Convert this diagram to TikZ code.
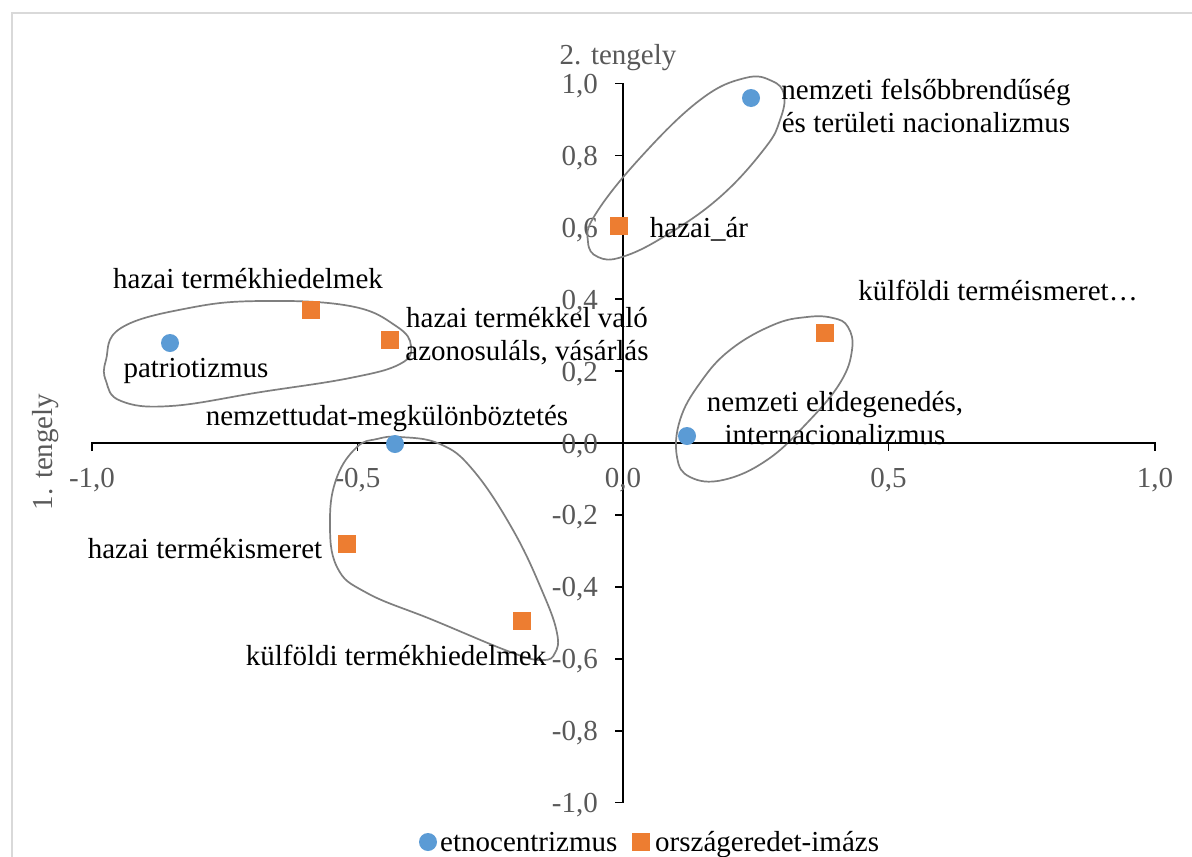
\documentclass[tikz,border=0pt]{standalone}
\usepackage{fontspec}
\setmainfont{Liberation Serif}
\definecolor{eblue}{HTML}{5B9BD5}
\definecolor{eorange}{HTML}{ED7D31}
\definecolor{axgray}{HTML}{595959}
\definecolor{blobgray}{HTML}{7F7F7F}
\definecolor{bordergray}{HTML}{D9D9D9}
\begin{document}
\begin{tikzpicture}[x=1pt,y=-1pt,
  dot/.style={circle,fill=eblue,inner sep=0pt,minimum size=18pt},
  sq/.style={rectangle,fill=eorange,inner sep=0pt,minimum size=17.5pt},
  lbl/.style={font=\fontsize{29}{33}\selectfont,text=black,inner sep=0pt,align=center},
  axl/.style={font=\fontsize{29}{33}\selectfont,text=axgray,inner sep=0pt},
  ytl/.style={axl,anchor=base east},
  blob/.style={draw=blobgray,line width=1.7pt},
  axline/.style={draw=black,line width=1.8pt}]
\useasboundingbox (0,0) rectangle (1192,857);
\fill[white] (0,0) rectangle (1192,857);
\draw[bordergray,line width=1.5pt] (12,857) -- (12,13) -- (1192,13);

% axes
\draw[axline] (92,451) -- (92,443) -- (1155,443) -- (1155,451);
\foreach \x in {357.5,888.5} \draw[axline] (\x,443) -- (\x,451);
\draw[axline] (615,83.5) -- (623,83.5) -- (623,802.5) -- (615,802.5);
\foreach \i in {1,...,9} \draw[axline] (615,{83.5+71.9*\i}) -- (623,{83.5+71.9*\i});

% x tick labels
\node[axl,anchor=base] (xm10) at (92,487) {-1,0};
\node[axl,anchor=base] (xm05) at (357.5,487) {-0,5};
\node[axl,anchor=base] (x00) at (623,487) {0,0};
\node[axl,anchor=base] (x05) at (888.5,487) {0,5};
\node[axl,anchor=base] (x10) at (1155,487) {1,0};
% y tick labels
\node[ytl] (y10) at (598,93.5) {1,0};
\node[ytl] (y08) at (598,165.4) {0,8};
\node[ytl] (y06) at (598,237.3) {0,6};
\node[ytl] (y04) at (598,309.2) {0,4};
\node[ytl] (y02) at (598,381.1) {0,2};
\node[ytl] (y00) at (598,453) {0,0};
\node[ytl] (ym02) at (598,524.9) {-0,2};
\node[ytl] (ym04) at (598,596.8) {-0,4};
\node[ytl] (ym06) at (598,668.7) {-0,6};
\node[ytl] (ym08) at (598,740.6) {-0,8};
\node[ytl] (ym10) at (598,812.5) {-1,0};

% axis titles
\node[axl,anchor=base] (t2) at (618,64) {2. tengely};
\node[axl,rotate=90] (t1) at (46,452) {1. tengely};

% blobs
\draw[blob] plot[smooth cycle,tension=0.7] coordinates {(745,78) (772,81) (784,95) (780,120) (765,148) (720,197) (665,236) (622,257) (598,257) (588,242) (595,215) (640,158) (700,100)};
\draw[blob] plot[smooth cycle,tension=0.7] coordinates {(121,328) (189,308) (261,301) (350,306) (396,326) (411,346) (400,364) (350,378) (261,392) (171,406) (121,401) (106,381) (106,360)};
\draw[blob] plot[smooth cycle,tension=0.7] coordinates {(400,437) (440,444) (473,470) (513,530) (543,593) (557,633) (555,653) (543,660) (513,653) (433,620) (367,593) (337,567) (330,520) (337,477) (357,447) (377,439)};
\draw[blob] plot[smooth cycle,tension=0.7] coordinates {(807,317) (833,318) (848,327) (852,350) (840,383) (807,423) (767,460) (723,480) (690,477) (677,457) (680,420) (700,383) (730,350) (773,325)};

% points
\node[dot] (patr) at (170,343) {};
\node[sq] (hthied) at (311,310) {};
\node[sq] (htazon) at (390,340) {};
\node[dot] (nemzt) at (395,444) {};
\node[sq] (htism) at (347,544) {};
\node[sq] (kthied) at (522,621) {};
\node[sq] (har) at (619,226) {};
\node[dot] (nfels) at (751,98) {};
\node[sq] (ktism) at (825,333) {};
\node[dot] (nelid) at (687,436) {};

% labels
\node[lbl,anchor=base] (l-hthied) at (248,288) {hazai termékhiedelmek};
\node[lbl,anchor=base] (l-patr) at (196,377) {patriotizmus};
\node[lbl,anchor=base] (l-nemzt) at (387,425) {nemzettudat-megkülönböztetés};
\node[lbl,anchor=base] (l-htism) at (205,558) {hazai termékismeret};
\node[lbl,anchor=base] (l-kthied) at (396,665) {külföldi termékhiedelmek};
\node[lbl,anchor=base] (l-har) at (699,237) {hazai\_ár};
\node[lbl,anchor=base] (l-ktism) at (998,300) {külföldi terméismeret…};
\node[lbl] (l-htazon) at (527,336) {hazai termékkel való\\azonosuláls, vásárlás};
\node[lbl] (l-nelid) at (835,418) {nemzeti elidegenedés,\\internacionalizmus};
\node[lbl] (l-nfels) at (926,106) {nemzeti felsőbbrendűség\\és területi nacionalizmus};

% legend
\node[dot] (leg1) at (428,842) {};
\node[lbl,anchor=base west] (leg1t) at (440,851) {etnocentrizmus};
\node[sq] (leg2) at (641,842) {};
\node[lbl,anchor=base west] (leg2t) at (655,851) {országeredet-imázs};
\end{tikzpicture}
\end{document}
